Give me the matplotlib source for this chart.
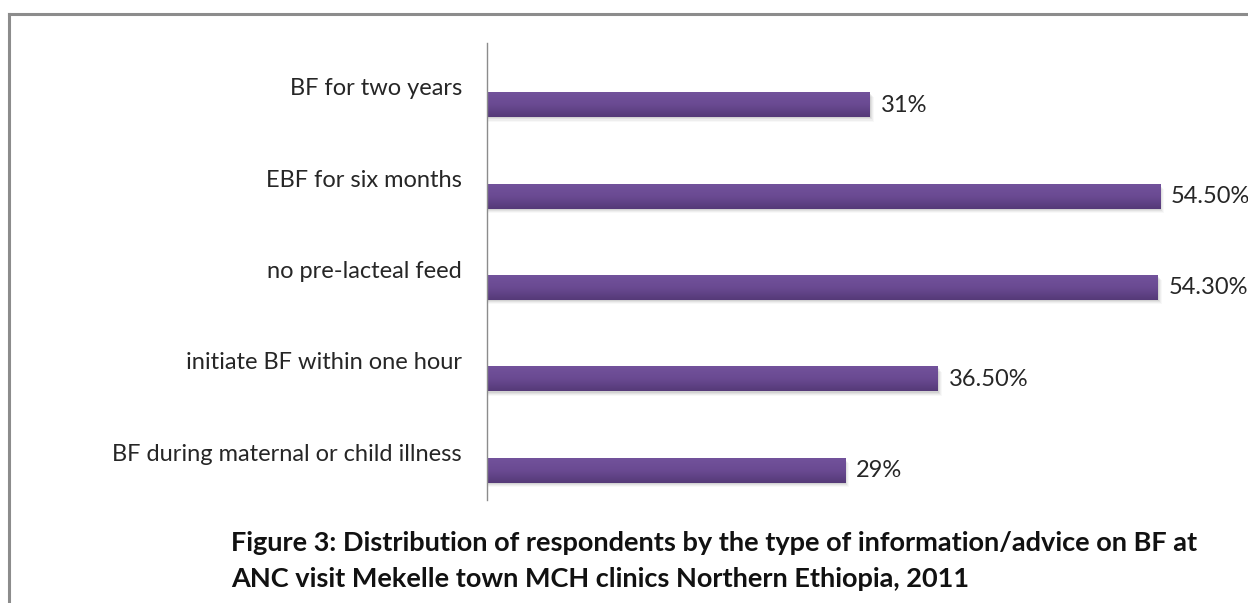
import matplotlib
matplotlib.use("Agg")
import matplotlib.pyplot as plt
import numpy as np
from matplotlib.lines import Line2D
from matplotlib.patches import Rectangle
from matplotlib.colors import LinearSegmentedColormap

categories = [
    "BF for two years",
    "EBF for six months",
    "no pre-lacteal feed",
    "initiate BF within one hour",
    "BF during maternal or child illness",
]
values = [31.0, 54.5, 54.3, 36.5, 29.0]
value_labels = ["31%", "54.50%", "54.30%", "36.50%", "29%"]
title_lines = [
    "Figure 3: Distribution of respondents by the type of information/advice on BF at",
    "ANC visit Mekelle town MCH clinics Northern Ethiopia, 2011",
]

W, H = 1248, 603
PX_PER_UNIT = 12.35
fig = plt.figure(figsize=(W / 100, H / 100), dpi=100)
fig.patch.set_facecolor("white")

# outer frame: top and left edges only visible
frame_kw = dict(color="#8c8c8c", linewidth=2.2, transform=fig.transFigure)
fig.add_artist(Line2D([9 / W, 1], [1 - 14 / H, 1 - 14 / H], **frame_kw))
fig.add_artist(Line2D([9 / W, 9 / W], [1 - 14 / H, 0], **frame_kw))

ax_left, ax_top, ax_bottom = 487, 43, 500
ax = fig.add_axes([ax_left / W, 1 - ax_bottom / H, 1 - ax_left / W, (ax_bottom - ax_top) / H])
n = len(categories)
for s in ["top", "right", "bottom"]:
    ax.spines[s].set_visible(False)
ax.spines["left"].set_color("#8c8c8c")
ax.spines["left"].set_linewidth(1.0)
ax.set_xticks([])
ax.set_yticks([])

cmap = LinearSegmentedColormap.from_list("bar", ["#553a78", "#6a4a92", "#72529b"])
grad = np.linspace(0, 1, 64).reshape(-1, 1)
bar_h = 0.265
bar_shift = 0.18
ypos = [n - 1 - i for i in range(n)]

for y, v, cat, lab in zip(ypos, values, categories, value_labels):
    yb = y - bar_shift
    # soft drop shadow
    for k, a in enumerate([0.10, 0.08, 0.06, 0.04]):
        off = 0.012 * (k + 1)
        ax.add_patch(Rectangle((0, yb - bar_h / 2 - off), v + 0.08 * (k + 1), bar_h,
                               facecolor="#555555", edgecolor="none", alpha=a, zorder=1))
    ax.imshow(grad, extent=[0, v, yb - bar_h / 2, yb + bar_h / 2], origin="lower",
              cmap=cmap, aspect="auto", zorder=2, interpolation="bilinear")
    ax.text(v + 11 / PX_PER_UNIT, yb, lab, ha="left", va="center", fontsize=17,
            family="Lato", color="#262626", zorder=3, clip_on=False)
    ax.text(-25 / PX_PER_UNIT, y, cat, ha="right", va="center", fontsize=17,
            family="Lato", color="#262626", clip_on=False)

ax.set_xlim(0, (W - ax_left) / PX_PER_UNIT)
ax.set_ylim(-0.5, n - 0.5)

fig.text(231 / W, 1 - 543 / H, title_lines[0], ha="left", va="center",
         fontsize=19.5, fontweight="bold", family="Lato", color="#111111")
fig.text(231 / W, 1 - 579 / H, title_lines[1], ha="left", va="center",
         fontsize=19.5, fontweight="bold", family="Lato", color="#111111")

fig.savefig("out.png", dpi=100, facecolor="white")
